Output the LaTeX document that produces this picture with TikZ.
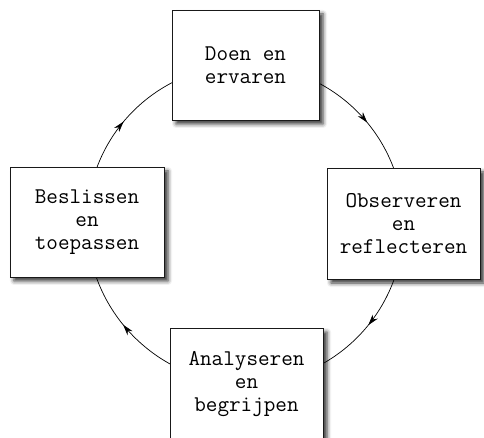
\documentclass[tikz,border=0pt]{standalone}
\usetikzlibrary{shadows.blur, decorations.markings, backgrounds, arrows.meta}

\begin{document}
\begin{tikzpicture}[x=1pt, y=1pt, >={Stealth[length=11pt,width=6.5pt]}]
      \tikzstyle{stap} = [rectangle, minimum width=153pt, minimum height=111pt, align=center, draw=black!90, fill=white, line width=0.9pt, font=\ttfamily\fontsize{22.5}{23}\selectfont, blur shadow={shadow xshift=4pt, shadow yshift=-4pt, shadow blur radius=4pt, shadow opacity=80}]
      \tikzstyle{pijl} = [line width=0.7pt, postaction={decorate}]
      \tikzset{pijl at/.style={decoration={markings, mark=at position #1 with {\arrow{>}}}}}
      \useasboundingbox (0,0) rectangle (484,437);
      \node[stap, minimum width=147pt, minimum height=110pt] (doen) at (245.5,372) {Doen en\\ervaren};
      \node[stap] (observeren) at (403.5,213.5) {Observeren\\en\\reflecteren};
      \node[stap, minimum height=112pt] (analyseren) at (246.5,53) {Analyseren\\en\\begrijpen};
      \node[stap, minimum width=154pt, minimum height=110pt] (beslissen) at (87,215) {Beslissen\\en\\toepassen};
      \begin{pgfonlayer}{background}
        \draw [pijl, pijl at=0.56] (doen.center) to[bend left=45] (observeren.center);
        \draw [pijl, pijl at=0.44] (observeren.center) to[bend left=45] (analyseren.center);
        \draw [pijl, pijl at=0.56] (analyseren.center) to[bend left=45] (beslissen.center);
        \draw [pijl, pijl at=0.44] (beslissen.center) to[bend left=45] (doen.center);
      \end{pgfonlayer}
  \end{tikzpicture}
\end{document}
